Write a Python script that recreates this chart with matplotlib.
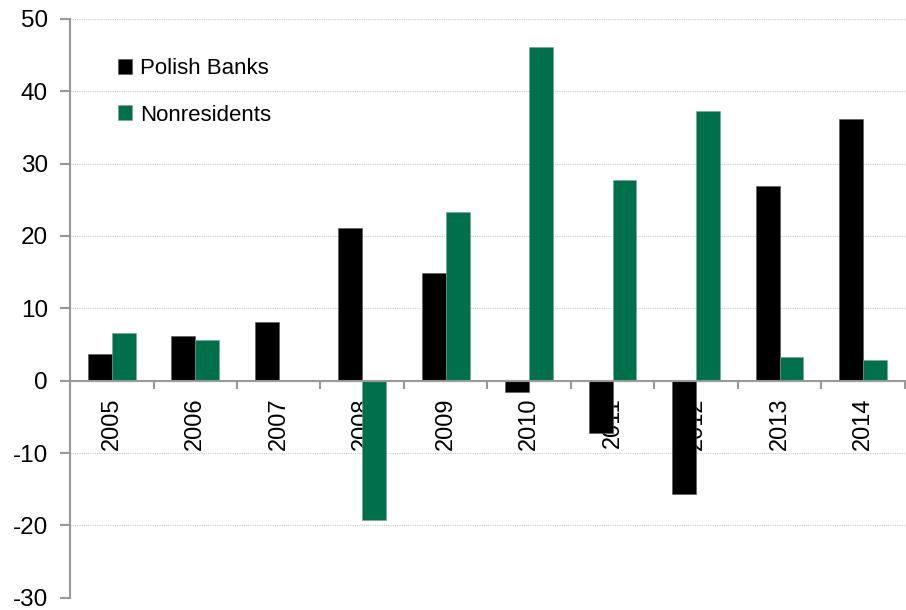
import matplotlib.pyplot as plt
import numpy as np

years = ["2005", "2006", "2007", "2008", "2009", "2010", "2011", "2012", "2013", "2014"]
polish_banks = [3.7, 6.2, 8.1, 21.1, 14.9, -1.6, -7.2, -15.6, 26.9, 36.1]
nonresidents = [6.6, 5.6, 0.0, -19.2, 23.3, 46.1, 27.7, 37.3, 3.3, 2.8]

plt.rcParams['font.family'] = ['Liberation Sans', 'DejaVu Sans']
plt.rcParams['axes.unicode_minus'] = False

fig = plt.figure(figsize=(9.06, 6.10), dpi=100)
ax = fig.add_axes([0.0773, 0.0200, 0.9215, 0.9490])

# spine position has to be set before the ticks, it resets them
for side in ['top', 'right']:
    ax.spines[side].set_visible(False)
ax.spines['bottom'].set_position(('data', 0))
for side in ['left', 'bottom']:
    ax.spines[side].set_color('#999999')
    ax.spines[side].set_linewidth(1.5)
    ax.spines[side].set_zorder(4)

x = np.arange(len(years))
w = 0.285
ax.bar(x - w / 2, polish_banks, w, color='black', edgecolor='#555555', linewidth=0.4,
       label='Polish Banks', zorder=3)
ax.bar(x + w / 2, nonresidents, w, color='#00704c', edgecolor='#7a9e8e', linewidth=0.4,
       label='Nonresidents', zorder=3)

ax.set_xlim(-0.5, len(years) - 0.5)
ax.set_ylim(-30, 50)
ax.set_yticks(range(-30, 51, 10))
ax.yaxis.grid(True, linestyle=(0, (1, 1)), color='#c8c8c8', linewidth=0.8, zorder=0)

# category labels at bar centres, tick marks on the boundaries
ax.set_xticks(x)
ax.set_xticklabels(years, rotation=90, fontsize=17, va='top', ha='center')
ax.set_xticks(np.arange(-0.5, len(years)), minor=True)
ax.tick_params(axis='x', which='major', length=0, pad=12)
ax.tick_params(axis='x', which='minor', length=6, width=1.5, color='#999999', direction='out')
ax.tick_params(axis='y', length=7, width=1.5, color='#999999', pad=9, labelsize=17.5)

ax.legend(loc='upper left', bbox_to_anchor=(0.033, 0.967), frameon=False, fontsize=16,
          handlelength=0.65, handleheight=0.65, handletextpad=0.35, labelspacing=1.15)

fig.savefig('out.png', dpi=100)
